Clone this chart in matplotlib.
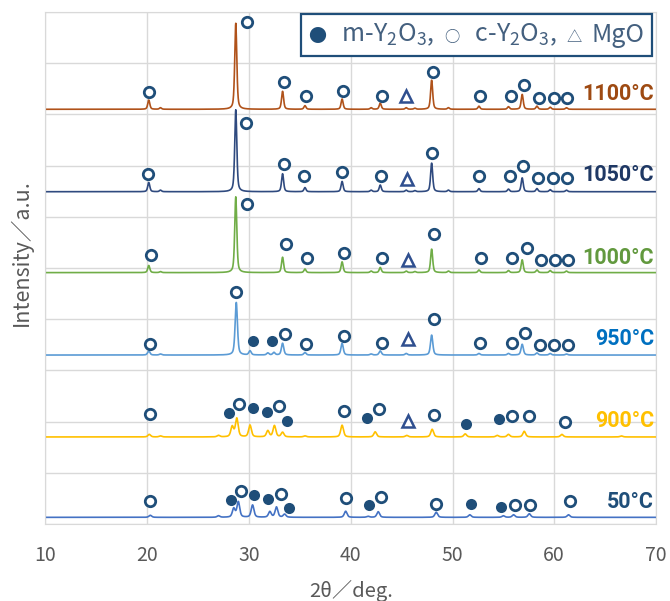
import numpy as np
import matplotlib
matplotlib.use("Agg")
import matplotlib.pyplot as plt
from matplotlib import font_manager
from matplotlib.offsetbox import TextArea, HPacker, AnchoredOffsetbox

plt.rcParams['font.family'] = ['Noto Sans CJK JP', 'DejaVu Sans']
plt.rcParams['mathtext.default'] = 'regular'

names = {f.name for f in font_manager.fontManager.ttflist}
temp_font = 'Liberation Sans Narrow' if 'Liberation Sans Narrow' in names else 'Roboto'

# peak tables (2theta, height above baseline)
pos_hi = [20.15, 21.3, 28.7, 33.3, 35.5, 39.15, 42.0, 42.9, 45.45, 46.3, 47.95, 49.6,
          52.6, 55.5, 56.85, 58.3, 59.6, 61.2]
h_1100 = [0.18, 0.03, 1.68, 0.35, 0.07, 0.20, 0.03, 0.12, 0.03, 0.02, 0.57, 0.03,
          0.06, 0.05, 0.29, 0.06, 0.04, 0.03]
h_1050 = [0.18, 0.03, 1.60, 0.35, 0.08, 0.20, 0.03, 0.13, 0.03, 0.02, 0.56, 0.03,
          0.06, 0.05, 0.27, 0.06, 0.04, 0.03]
h_1000 = [0.14, 0.02, 1.48, 0.30, 0.07, 0.21, 0.03, 0.10, 0.03, 0.02, 0.46, 0.03,
          0.05, 0.04, 0.25, 0.05, 0.04, 0.03]
pos_950 = [20.15, 21.3, 28.75, 30.1, 31.85, 32.45, 33.3, 35.5, 39.15, 42.0, 42.9, 45.45,
           47.95, 52.6, 55.5, 56.85, 58.3, 59.6, 61.2]
h_950 = [0.08, 0.02, 1.03, 0.08, 0.04, 0.05, 0.23, 0.05, 0.23, 0.02, 0.08, 0.03,
         0.39, 0.03, 0.03, 0.21, 0.04, 0.03, 0.02]
pos_900 = [20.2, 21.3, 27.0, 28.35, 28.8, 30.1, 31.85, 32.5, 33.3, 35.5, 39.15, 42.4,
           45.5, 48.0, 51.25, 54.4, 55.5, 57.05, 60.75, 66.6]
h_900 = [0.05, 0.02, 0.03, 0.20, 0.36, 0.23, 0.12, 0.22, 0.09, 0.02, 0.23, 0.10,
         0.03, 0.15, 0.06, 0.03, 0.05, 0.11, 0.05, 0.02]
pos_50 = [20.3, 27.0, 28.5, 28.95, 30.35, 32.05, 32.7, 33.5, 39.5, 41.7, 42.7, 48.4,
          51.7, 55.0, 56.0, 57.55, 61.4]
h_50 = [0.04, 0.03, 0.17, 0.30, 0.24, 0.11, 0.20, 0.06, 0.12, 0.02, 0.11, 0.10,
        0.05, 0.03, 0.05, 0.07, 0.05]

temps = ['1100°C', '1050°C', '1000°C', '950°C', '900°C', '50°C']
baselines = [8.10, 6.49, 4.91, 3.30, 1.70, 0.13]
peak_pos = [pos_hi, pos_hi, pos_hi, pos_950, pos_900, pos_50]
peak_h = [h_1100, h_1050, h_1000, h_950, h_900, h_50]
widths = [0.24, 0.24, 0.24, 0.27, 0.32, 0.32]
line_colors = ['#B0521A', '#2F4A7F', '#70AD47', '#5B9BD5', '#FFC000', '#4472C4']
label_colors = ['#9E4A12', '#1F3864', '#62993E', '#0070C0', '#FFC000', '#1F4E79']
label_y = [8.40, 6.82, 5.19, 3.61, 2.01, 0.42]

# phase markers (2theta, intensity position)
c_1100 = [(20.2, 8.44), (29.8, 9.80), (33.45, 8.63), (35.6, 8.36), (39.2, 8.46), (43.05, 8.36),
          (48.07, 8.83), (52.7, 8.36), (55.74, 8.36), (57.05, 8.57), (58.55, 8.33), (60.0, 8.33),
          (61.3, 8.33)]
c_1050 = [(20.1, 6.84), (29.7, 7.83), (33.4, 7.04), (35.45, 6.80), (39.1, 6.87), (43.0, 6.80),
          (48.03, 7.24), (52.65, 6.80), (55.67, 6.80), (56.9, 7.00), (58.45, 6.75), (59.87, 6.75),
          (61.25, 6.75)]
c_1000 = [(20.35, 5.25), (29.85, 6.25), (33.6, 5.46), (35.7, 5.20), (39.3, 5.29), (43.1, 5.20),
          (48.2, 5.66), (52.8, 5.20), (55.84, 5.20), (57.3, 5.40), (58.7, 5.16), (60.1, 5.16),
          (61.4, 5.16)]
c_950 = [(20.3, 3.52), (28.73, 4.54), (33.58, 3.72), (35.6, 3.52), (39.35, 3.68), (43.1, 3.54),
         (48.17, 4.00), (52.75, 3.54), (55.84, 3.54), (57.15, 3.74), (58.6, 3.50), (60.0, 3.50),
         (61.35, 3.50)]
c_900 = [(20.3, 2.14), (29.0, 2.34), (32.96, 2.30), (39.3, 2.20), (42.8, 2.25), (48.2, 2.12),
         (55.84, 2.10), (57.5, 2.10), (61.1, 2.00)]
c_50 = [(20.3, 0.45), (29.2, 0.65), (33.1, 0.59), (39.5, 0.50), (43.0, 0.53), (48.4, 0.40),
        (56.1, 0.37), (57.65, 0.37), (61.57, 0.44)]
m_950 = [(30.37, 3.58), (32.3, 3.57)]
m_900 = [(28.0, 2.17), (30.4, 2.27), (31.75, 2.18), (33.7, 2.02), (41.6, 2.08), (51.35, 1.95),
         (54.6, 2.05)]
m_50 = [(28.2, 0.47), (30.5, 0.57), (31.9, 0.49), (33.9, 0.32), (41.75, 0.38), (51.8, 0.40),
        (54.75, 0.34)]
mgo = [(45.4, 8.35), (45.5, 6.74), (45.67, 5.16), (45.67, 3.61), (45.6, 2.02)]

mark_color = '#1F4E79'
tri_color = '#2F4F8F'

fig = plt.figure(figsize=(6.70, 6.01), dpi=100)
ax = fig.add_axes([45.5 / 670, 77 / 601, 610.5 / 670, 512 / 601])

tt = np.arange(10, 70.001, 0.02)


def profile(base, pos, hts, w):
    y = np.full_like(tt, base)
    for p, h in zip(pos, hts):
        d = (tt - p) / (w / 2)
        y += h * (0.5 / (1 + d ** 2) + 0.5 * np.exp(-np.log(2) * d ** 2))
    return y


for i in range(len(temps)):
    ax.plot(tt, profile(baselines[i], peak_pos[i], peak_h[i], widths[i]),
            color=line_colors[i], lw=1.2, zorder=2)
    ax.text(69.8, label_y[i], temps[i], ha='right', va='center', fontsize=15.5,
            fontweight='bold', color=label_colors[i], family=[temp_font, 'DejaVu Sans'])

for pts in [c_1100, c_1050, c_1000, c_950, c_900, c_50]:
    xs, ys = zip(*pts)
    ax.plot(xs, ys, 'o', ms=7.5, mfc='white', mec=mark_color, mew=2.0, ls='none', zorder=4)
for pts in [m_950, m_900, m_50]:
    xs, ys = zip(*pts)
    ax.plot(xs, ys, 'o', ms=8, mfc=mark_color, mec=mark_color, mew=0, ls='none', zorder=4)
xs, ys = zip(*mgo)
ax.plot(xs, ys, '^', ms=8.5, mfc='white', mec=tri_color, mew=1.8, ls='none', zorder=4)

ax.set_xlim(10, 70)
ax.set_ylim(0, 10)
ax.set_xticks(range(10, 71, 10))
ax.set_yticks(range(0, 11))
ax.set_yticklabels([])
ax.grid(True, color='#D9D9D9', lw=1.0)
ax.set_axisbelow(True)
for s in ax.spines.values():
    s.set_color('#D9D9D9')
ax.tick_params(length=0, labelsize=14, labelcolor='#595959', pad=15)
ax.set_xlabel('2θ／deg.', fontsize=14.5, color='#595959', labelpad=10.5)
ax.set_ylabel('Intensity／a.u.', fontsize=15.5, color='#595959')
ax.yaxis.set_label_coords(-0.02, 0.53)

txt_c = '#44607F'
parts = [TextArea('●', textprops=dict(color=mark_color, fontsize=13)),
         TextArea(' m-Y$_2$O$_3$,', textprops=dict(color=txt_c, fontsize=18)),
         TextArea('○', textprops=dict(color=txt_c, fontsize=11)),
         TextArea(' c-Y$_2$O$_3$,', textprops=dict(color=txt_c, fontsize=18)),
         TextArea('△', textprops=dict(color=txt_c, fontsize=11)),
         TextArea('MgO', textprops=dict(color=txt_c, fontsize=18))]
row = HPacker(children=parts, align='baseline', pad=0, sep=7)
box = AnchoredOffsetbox(loc='upper right', child=row, pad=0.55, borderpad=0, frameon=True,
                        bbox_to_anchor=(0.993, 0.996), bbox_transform=ax.transAxes)
box.patch.set_boxstyle('square,pad=0')
box.patch.set_edgecolor('#1F4E79')
box.patch.set_linewidth(1.6)
box.zorder = 5
ax.add_artist(box)

fig.savefig('out.png', dpi=100)
